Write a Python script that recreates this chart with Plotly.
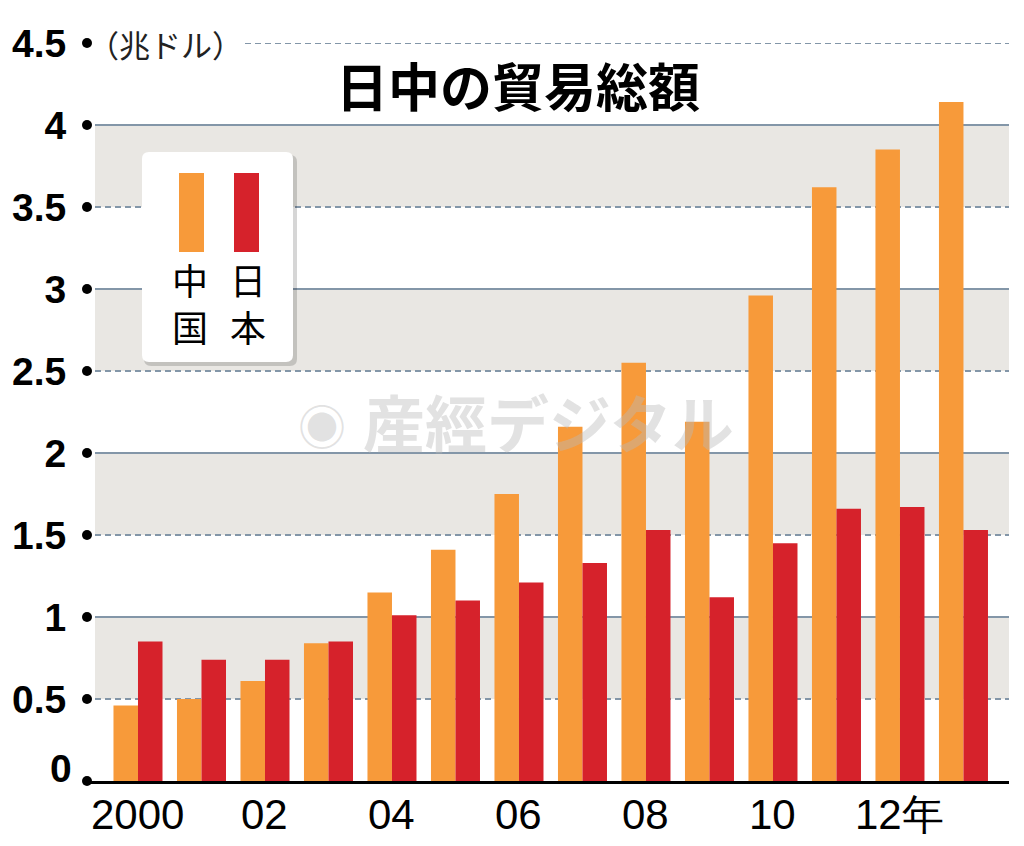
import plotly.graph_objects as go

# ---- data ----
years = list(range(2000, 2014))
china = [0.46, 0.50, 0.61, 0.84, 1.15, 1.41, 1.75, 2.16, 2.55, 2.19, 2.96, 3.62, 3.85, 4.14]
japan = [0.85, 0.74, 0.74, 0.85, 1.01, 1.10, 1.21, 1.33, 1.53, 1.12, 1.45, 1.66, 1.67, 1.53]
x_tickvals = [2000, 2002, 2004, 2006, 2008, 2010, 2012]
x_ticktext = ["2000", "02", "04", "06", "08", "10", "12年"]
y_tickvals = [0, 0.5, 1, 1.5, 2, 2.5, 3, 3.5, 4, 4.5]
y_ticktext = ["", "0.5", "1", "1.5", "2", "2.5", "3", "3.5", "4", "4.5"]
series_names = ["中国", "日本"]
title_text = "日中の貿易総額"
unit_text = "（兆ドル）"
watermark_text = "産經デジタル"

ORANGE = "#F79A3A"
RED = "#D6222B"
BAND = "#E9E7E3"
GRID = "#8396A8"

W, H = 1024, 846
L, R, T, B = 87, 1009, 43, 781
XMIN, XMAX = 1999.197, 2013.717


def px(x):
    return (x - L) / (R - L)


def py(y):
    return (B - y) / (B - T)


fig = go.Figure()
fig.add_trace(go.Bar(x=years, y=china, name=series_names[0], marker_color=ORANGE,
                     marker_line_width=0, showlegend=False))
fig.add_trace(go.Bar(x=years, y=japan, name=series_names[1], marker_color=RED,
                     marker_line_width=0, showlegend=False))
# tick dots on the y axis
fig.add_trace(go.Scatter(x=[XMIN] * len(y_tickvals), y=y_tickvals, mode="markers",
                         marker=dict(color="black", size=10), cliponaxis=False,
                         showlegend=False, hoverinfo="skip"))

shapes = []
# grey bands
for lo in [0.5, 1.5, 2.5, 3.5]:
    shapes.append(dict(type="rect", xref="paper", yref="y", x0=px(95), x1=1,
                       y0=lo, y1=lo + 0.5, fillcolor=BAND, line_width=0, layer="below"))
# grid lines
for v in y_tickvals[1:]:
    solid = float(v).is_integer()
    x0 = px(245) if v == 4.5 else px(95)
    shapes.append(dict(type="line", xref="paper", yref="y", x0=x0, x1=1, y0=v, y1=v,
                       line=dict(color=GRID, width=2, dash="solid" if solid else "6px,4px"),
                       layer="below"))


def rrect(x0, y0, x1, y1, r=7):
    rx = r / (R - L)
    ry = r / (B - T)
    a0, a1 = px(x0), px(x1)
    b0, b1 = py(y1), py(y0)
    return (f"M{a0+rx},{b0} L{a1-rx},{b0} Q{a1},{b0} {a1},{b0+ry} L{a1},{b1-ry} "
            f"Q{a1},{b1} {a1-rx},{b1} L{a0+rx},{b1} Q{a0},{b1} {a0},{b1-ry} "
            f"L{a0},{b0+ry} Q{a0},{b0} {a0+rx},{b0} Z")


# legend box
shapes.append(dict(type="path", xref="paper", yref="paper", path=rrect(144, 155, 297, 366),
                   fillcolor="rgba(0,0,0,0.16)", line_width=0, layer="above"))
shapes.append(dict(type="path", xref="paper", yref="paper", path=rrect(142, 152, 293, 362),
                   fillcolor="white", line_width=0, layer="above"))
shapes.append(dict(type="rect", xref="paper", yref="paper", x0=px(179), x1=px(204),
                   y0=py(252), y1=py(173), fillcolor=ORANGE, line_width=0, layer="above"))
shapes.append(dict(type="rect", xref="paper", yref="paper", x0=px(234), x1=px(259),
                   y0=py(252), y1=py(173), fillcolor=RED, line_width=0, layer="above"))

CJK = "Noto Sans CJK JP"
annotations = [
    dict(text=title_text, xref="paper", yref="paper", x=px(518), y=py(85),
         showarrow=False, xanchor="center", yanchor="middle",
         font=dict(family=CJK, size=52, color="black", weight="bold")),
    dict(text=unit_text, xref="paper", yref="y", x=px(86), y=4.5,
         showarrow=False, xanchor="left", yanchor="middle",
         font=dict(family=CJK, size=31, color="#222")),
    dict(text="0", xref="paper", yref="y", x=px(74), y=0, yshift=13,
         showarrow=False, xanchor="right", yanchor="middle",
         font=dict(family="Liberation Sans", size=39, color="black", weight="bold")),
    dict(text=watermark_text, xref="paper", yref="paper", x=px(548), y=py(421),
         showarrow=False, xanchor="center", yanchor="middle",
         font=dict(family=CJK, size=62, color="rgba(185,185,185,0.42)", weight="bold")),
    dict(text="◉", xref="paper", yref="paper", x=px(322), y=py(424),
         showarrow=False, xanchor="center", yanchor="middle",
         font=dict(family=CJK, size=48, color="rgba(185,185,185,0.42)")),
]
# legend labels (stacked characters)
for name, cx in [(series_names[0], 190), (series_names[1], 248)]:
    annotations.append(dict(text="<br>".join(name), xref="paper", yref="paper",
                            x=px(cx), y=py(302), showarrow=False,
                            xanchor="center", yanchor="middle",
                            font=dict(family=CJK, size=36, color="black")))
# x tick labels
for xv, lab in zip(x_tickvals, x_ticktext):
    annotations.append(dict(text=lab, xref="x", yref="paper", x=xv, y=0, yshift=-8,
                            showarrow=False, xanchor="center", yanchor="top",
                            font=dict(family="Liberation Sans", size=42, color="black")))

fig.update_layout(
    width=W, height=H,
    margin=dict(l=L, r=W - R, t=T, b=H - B, pad=0),
    paper_bgcolor="white", plot_bgcolor="white",
    barmode="group", bargap=0.228, bargroupgap=0,
    shapes=shapes, annotations=annotations,
    showlegend=False,
    xaxis=dict(range=[XMIN, XMAX], showticklabels=False, automargin=False,
               showgrid=False, zeroline=False, showline=True, linecolor="black",
               linewidth=3, ticks=""),
    yaxis=dict(range=[0, 4.5], tickvals=y_tickvals, ticktext=y_ticktext, automargin=False,
               showgrid=False, zeroline=False, showline=False,
               ticks="outside", ticklen=12, tickcolor="rgba(0,0,0,0)",
               tickfont=dict(family="Liberation Sans", size=39, color="black", weight="bold")),
)

fig.write_html("out.html", config={"displayModeBar": False},
               post_script="document.body.style.margin='0';document.body.style.overflow='hidden';")
